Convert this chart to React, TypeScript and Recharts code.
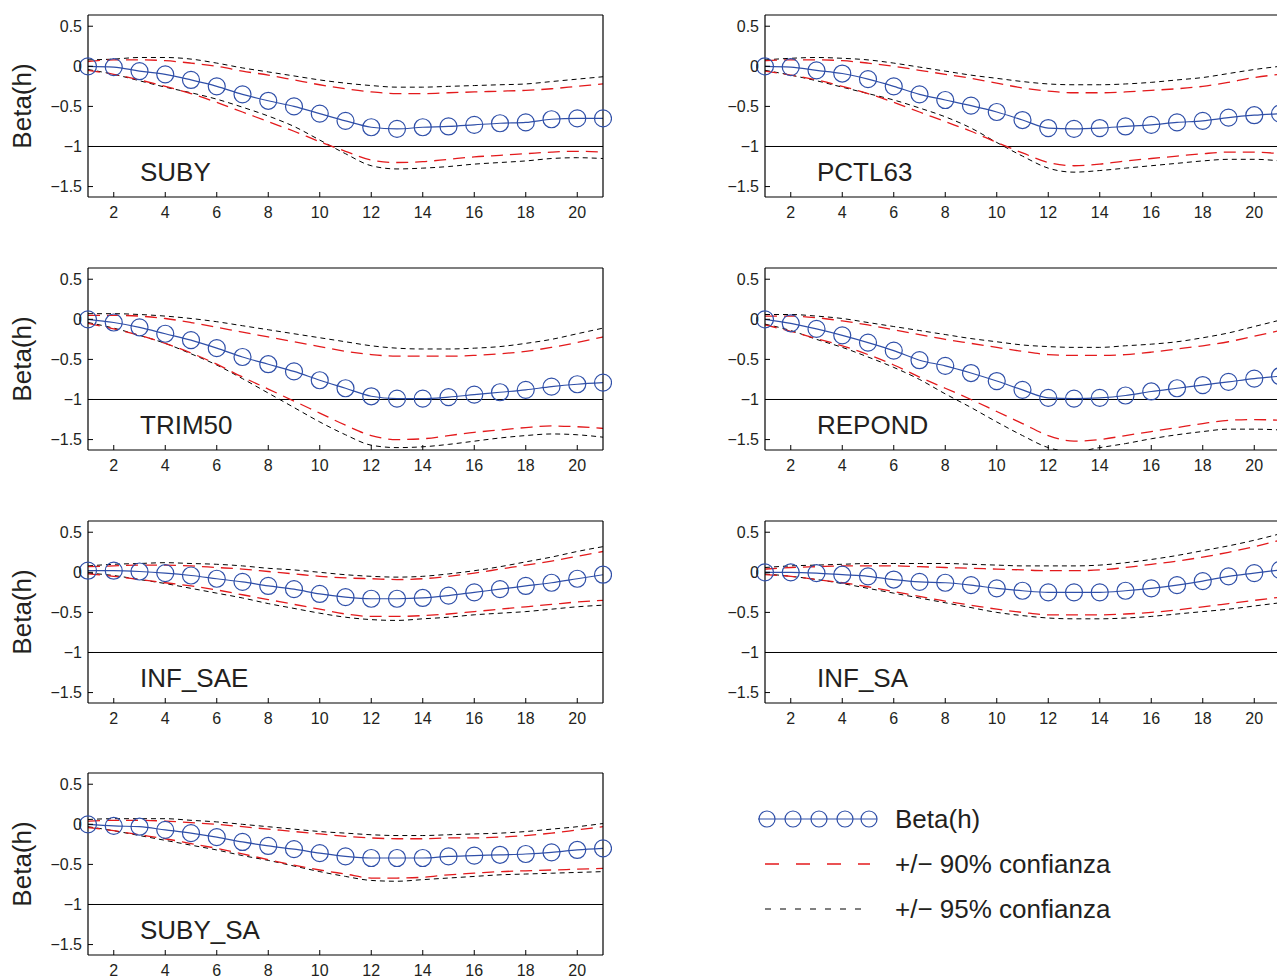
import { LineChart, Line, XAxis, YAxis, ReferenceLine } from "recharts";

const HORIZONS = [1, 2, 3, 4, 5, 6, 7, 8, 9, 10, 11, 12, 13, 14, 15, 16, 17, 18, 19, 20, 21];
const X_TICKS = [2, 4, 6, 8, 10, 12, 14, 16, 18, 20];
const Y_TICKS = [-1.5, -1, -0.5, 0, 0.5];

const SUBY_BETA = [0, -0.01, -0.06, -0.1, -0.17, -0.25, -0.35, -0.43, -0.5, -0.59, -0.68, -0.76, -0.78, -0.76, -0.75, -0.73, -0.71, -0.7, -0.66, -0.65, -0.65];
const SUBY_U90 = [0.06, 0.08, 0.08, 0.07, 0.04, 0.0, -0.06, -0.11, -0.17, -0.23, -0.28, -0.32, -0.34, -0.34, -0.33, -0.32, -0.31, -0.3, -0.28, -0.25, -0.22];
const SUBY_L90 = [-0.05, -0.1, -0.17, -0.25, -0.34, -0.45, -0.57, -0.69, -0.81, -0.94, -1.06, -1.17, -1.2, -1.19, -1.16, -1.13, -1.11, -1.09, -1.07, -1.06, -1.07];
const SUBY_U95 = [0.08, 0.09, 0.11, 0.11, 0.09, 0.04, -0.02, -0.07, -0.12, -0.17, -0.21, -0.24, -0.26, -0.26, -0.25, -0.24, -0.23, -0.22, -0.19, -0.16, -0.13];
const SUBY_L95 = [-0.04, -0.1, -0.18, -0.26, -0.33, -0.41, -0.51, -0.62, -0.75, -0.92, -1.09, -1.24, -1.28, -1.27, -1.25, -1.22, -1.2, -1.18, -1.15, -1.14, -1.15];

const PCTL63_BETA = [0, -0.01, -0.05, -0.09, -0.16, -0.25, -0.35, -0.42, -0.49, -0.57, -0.67, -0.77, -0.78, -0.77, -0.75, -0.73, -0.7, -0.68, -0.64, -0.61, -0.59];
const PCTL63_U90 = [0.07, 0.08, 0.08, 0.07, 0.04, 0.0, -0.05, -0.1, -0.15, -0.21, -0.27, -0.31, -0.33, -0.33, -0.32, -0.3, -0.28, -0.25, -0.2, -0.14, -0.1];
const PCTL63_L90 = [-0.06, -0.11, -0.17, -0.25, -0.34, -0.45, -0.57, -0.69, -0.81, -0.95, -1.08, -1.2, -1.24, -1.22, -1.18, -1.15, -1.12, -1.09, -1.07, -1.07, -1.09];
const PCTL63_U95 = [0.08, 0.1, 0.11, 0.1, 0.08, 0.04, -0.01, -0.06, -0.11, -0.15, -0.19, -0.22, -0.23, -0.23, -0.22, -0.2, -0.17, -0.14, -0.09, -0.04, 0.0];
const PCTL63_L95 = [-0.05, -0.11, -0.18, -0.26, -0.34, -0.42, -0.52, -0.63, -0.77, -0.95, -1.12, -1.27, -1.32, -1.3, -1.27, -1.24, -1.21, -1.18, -1.16, -1.16, -1.18];

const TRIM50_BETA = [0, -0.04, -0.1, -0.18, -0.26, -0.36, -0.47, -0.56, -0.65, -0.76, -0.86, -0.96, -0.99, -0.99, -0.97, -0.94, -0.91, -0.88, -0.84, -0.81, -0.79];
const TRIM50_U90 = [0.05, 0.05, 0.04, 0.01, -0.04, -0.1, -0.16, -0.22, -0.28, -0.34, -0.4, -0.44, -0.46, -0.46, -0.46, -0.45, -0.43, -0.4, -0.35, -0.29, -0.22];
const TRIM50_L90 = [-0.05, -0.12, -0.2, -0.3, -0.42, -0.56, -0.72, -0.87, -1.02, -1.17, -1.32, -1.45, -1.5, -1.49, -1.45, -1.41, -1.38, -1.35, -1.33, -1.34, -1.36];
const TRIM50_U95 = [0.07, 0.07, 0.06, 0.04, 0.01, -0.03, -0.08, -0.13, -0.18, -0.23, -0.28, -0.33, -0.36, -0.37, -0.37, -0.36, -0.34, -0.3, -0.25, -0.18, -0.11];
const TRIM50_L95 = [-0.04, -0.11, -0.2, -0.3, -0.43, -0.57, -0.74, -0.92, -1.1, -1.28, -1.44, -1.57, -1.6, -1.59, -1.56, -1.52, -1.48, -1.45, -1.43, -1.44, -1.47];

const REPOND_BETA = [0, -0.05, -0.12, -0.2, -0.29, -0.39, -0.51, -0.58, -0.67, -0.77, -0.88, -0.98, -0.99, -0.98, -0.95, -0.9, -0.86, -0.82, -0.78, -0.74, -0.71];
const REPOND_U90 = [0.04, 0.04, 0.02, -0.02, -0.07, -0.13, -0.19, -0.25, -0.3, -0.35, -0.4, -0.44, -0.45, -0.45, -0.44, -0.41, -0.37, -0.33, -0.28, -0.21, -0.14];
const REPOND_L90 = [-0.07, -0.15, -0.24, -0.33, -0.44, -0.57, -0.72, -0.86, -1.0, -1.15, -1.3, -1.45, -1.52, -1.5, -1.45, -1.4, -1.35, -1.3, -1.26, -1.25, -1.26];
const REPOND_U95 = [0.06, 0.06, 0.04, 0.01, -0.04, -0.09, -0.14, -0.19, -0.24, -0.28, -0.32, -0.34, -0.35, -0.35, -0.33, -0.31, -0.28, -0.23, -0.17, -0.09, -0.01];
const REPOND_L95 = [-0.06, -0.14, -0.25, -0.35, -0.47, -0.6, -0.75, -0.93, -1.1, -1.28, -1.45, -1.6, -1.65, -1.6, -1.55, -1.49, -1.44, -1.4, -1.37, -1.37, -1.38];

const INFSAE_BETA = [0.02, 0.02, 0.01, -0.01, -0.04, -0.08, -0.12, -0.17, -0.21, -0.27, -0.31, -0.33, -0.33, -0.32, -0.29, -0.25, -0.21, -0.17, -0.13, -0.08, -0.03];
const INFSAE_U90 = [0.07, 0.08, 0.09, 0.09, 0.08, 0.06, 0.04, 0.01, -0.02, -0.05, -0.07, -0.08, -0.09, -0.08, -0.05, -0.01, 0.04, 0.09, 0.14, 0.2, 0.26];
const INFSAE_L90 = [-0.02, -0.05, -0.09, -0.13, -0.17, -0.22, -0.28, -0.34, -0.4, -0.46, -0.52, -0.55, -0.55, -0.54, -0.52, -0.49, -0.46, -0.43, -0.4, -0.37, -0.35];
const INFSAE_U95 = [0.08, 0.1, 0.11, 0.12, 0.11, 0.1, 0.08, 0.05, 0.03, 0.0, -0.03, -0.05, -0.06, -0.05, -0.02, 0.02, 0.07, 0.13, 0.19, 0.26, 0.32];
const INFSAE_L95 = [-0.01, -0.04, -0.09, -0.14, -0.2, -0.26, -0.32, -0.39, -0.45, -0.51, -0.56, -0.59, -0.6, -0.58, -0.56, -0.53, -0.51, -0.49, -0.46, -0.43, -0.41];

const INFSA_BETA = [0, 0, -0.01, -0.03, -0.05, -0.09, -0.12, -0.13, -0.16, -0.2, -0.23, -0.25, -0.25, -0.25, -0.23, -0.2, -0.16, -0.11, -0.05, -0.01, 0.03];
const INFSA_U90 = [0.04, 0.06, 0.07, 0.08, 0.08, 0.08, 0.07, 0.06, 0.05, 0.04, 0.03, 0.02, 0.02, 0.03, 0.06, 0.1, 0.14, 0.19, 0.25, 0.32, 0.4];
const INFSA_L90 = [-0.03, -0.05, -0.09, -0.13, -0.18, -0.24, -0.3, -0.36, -0.41, -0.46, -0.5, -0.53, -0.53, -0.53, -0.52, -0.5, -0.47, -0.43, -0.39, -0.35, -0.31];
const INFSA_U95 = [0.06, 0.08, 0.09, 0.1, 0.11, 0.11, 0.11, 0.11, 0.1, 0.09, 0.08, 0.08, 0.08, 0.09, 0.12, 0.16, 0.21, 0.27, 0.33, 0.4, 0.48];
const INFSA_L95 = [-0.02, -0.05, -0.09, -0.14, -0.2, -0.26, -0.32, -0.38, -0.44, -0.5, -0.54, -0.57, -0.58, -0.58, -0.57, -0.55, -0.52, -0.49, -0.46, -0.42, -0.38];

const SUBYSA_BETA = [0, -0.02, -0.03, -0.07, -0.11, -0.16, -0.22, -0.27, -0.31, -0.36, -0.4, -0.42, -0.42, -0.42, -0.4, -0.39, -0.38, -0.37, -0.35, -0.32, -0.3];
const SUBYSA_U90 = [0.04, 0.05, 0.05, 0.04, 0.02, 0.0, -0.03, -0.06, -0.09, -0.12, -0.15, -0.17, -0.18, -0.18, -0.17, -0.17, -0.16, -0.14, -0.11, -0.07, -0.03];
const SUBYSA_L90 = [-0.04, -0.08, -0.13, -0.18, -0.24, -0.3, -0.37, -0.44, -0.51, -0.57, -0.62, -0.67, -0.67, -0.66, -0.63, -0.61, -0.59, -0.58, -0.57, -0.56, -0.55];
const SUBYSA_U95 = [0.06, 0.07, 0.07, 0.07, 0.05, 0.03, 0.0, -0.03, -0.06, -0.09, -0.11, -0.13, -0.14, -0.14, -0.13, -0.12, -0.11, -0.09, -0.06, -0.03, 0.01];
const SUBYSA_L95 = [-0.03, -0.08, -0.14, -0.2, -0.26, -0.32, -0.39, -0.45, -0.52, -0.59, -0.65, -0.7, -0.71, -0.69, -0.67, -0.65, -0.63, -0.62, -0.61, -0.6, -0.59];

const BLUE = "#2f4fa8";
const RED = "#e31a1c";
const FONT = "'Liberation Sans', Arial, Helvetica, sans-serif";
const TEXT = "#231f20";

// plot box geometry (page pixels)
const COL_X = [88, 765];
const ROW_Y = [15, 268, 521, 773];
const PLOT_W = 515;
const PLOT_H = 182;
const CHART_W = 620;
const CHART_H = 230;

function rows(beta: number[], u90: number[], l90: number[], u95: number[], l95: number[]) {
  return HORIZONS.map((h, i) => ({ h, beta: beta[i], u90: u90[i], l90: l90[i], u95: u95[i], l95: l95[i] }));
}

const PANELS = [
  { name: "SUBY", col: 0, row: 0, data: rows(SUBY_BETA, SUBY_U90, SUBY_L90, SUBY_U95, SUBY_L95) },
  { name: "PCTL63", col: 1, row: 0, data: rows(PCTL63_BETA, PCTL63_U90, PCTL63_L90, PCTL63_U95, PCTL63_L95) },
  { name: "TRIM50", col: 0, row: 1, data: rows(TRIM50_BETA, TRIM50_U90, TRIM50_L90, TRIM50_U95, TRIM50_L95) },
  { name: "REPOND", col: 1, row: 1, data: rows(REPOND_BETA, REPOND_U90, REPOND_L90, REPOND_U95, REPOND_L95) },
  { name: "INF_SAE", col: 0, row: 2, data: rows(INFSAE_BETA, INFSAE_U90, INFSAE_L90, INFSAE_U95, INFSAE_L95) },
  { name: "INF_SA", col: 1, row: 2, data: rows(INFSA_BETA, INFSA_U90, INFSA_L90, INFSA_U95, INFSA_L95) },
  { name: "SUBY_SA", col: 0, row: 3, data: rows(SUBYSA_BETA, SUBYSA_U90, SUBYSA_L90, SUBYSA_U95, SUBYSA_L95) },
];

const fmtY = (v: number) => (v < 0 ? "\u2212" + Math.abs(v) : String(v));
const tickStyle = { fill: TEXT, fontSize: 16, fontFamily: FONT };

function Panel({ data, left, top }: { data: any[]; left: number; top: number }) {
  const yAxisW = 40;
  return (
    <div style={{ position: "absolute", left: left - 88, top: top - 15 }}>
      <LineChart
        width={CHART_W}
        height={CHART_H}
        data={data}
        margin={{ top: 10, left: 88 - yAxisW, right: CHART_W - 88 - PLOT_W - 10, bottom: CHART_H - 15 - PLOT_H - 30 }}
      >
        <XAxis
          xAxisId="b"
          dataKey="h"
          type="number"
          domain={[1, 21]}
          ticks={X_TICKS}
          allowDataOverflow
          height={30}
          tickSize={-5}
          tickMargin={15}
          fontSize={16}
          tick={tickStyle}
          axisLine={{ stroke: "#000", strokeWidth: 1.2 }}
          tickLine={{ stroke: "#000" }}
        />
        <XAxis
          xAxisId="t"
          orientation="top"
          dataKey="h"
          type="number"
          domain={[1, 21]}
          ticks={X_TICKS}
          allowDataOverflow
          height={5}
          tickSize={-5}
          tick={false}
          axisLine={{ stroke: "#000", strokeWidth: 1.2 }}
          tickLine={{ stroke: "#000" }}
        />
        <YAxis
          yAxisId="l"
          type="number"
          domain={[-1.63, 0.64]}
          ticks={Y_TICKS}
          allowDataOverflow
          width={yAxisW}
          tickSize={-5}
          tickMargin={11}
          fontSize={16}
          tickFormatter={fmtY}
          tick={tickStyle}
          axisLine={{ stroke: "#000", strokeWidth: 1.2 }}
          tickLine={{ stroke: "#000" }}
        />
        <YAxis
          yAxisId="r"
          orientation="right"
          type="number"
          domain={[-1.63, 0.64]}
          ticks={Y_TICKS}
          allowDataOverflow
          width={10}
          tickSize={-5}
          tick={false}
          axisLine={{ stroke: "#000", strokeWidth: 1.2 }}
          tickLine={{ stroke: "#000" }}
        />
        <ReferenceLine xAxisId="b" yAxisId="l" y={-1} stroke="#000" strokeWidth={1} />
        <Line xAxisId="b" yAxisId="l" dataKey="u95" type="monotone" stroke="#000" strokeWidth={1} strokeDasharray="5 4" dot={false} isAnimationActive={false} />
        <Line xAxisId="b" yAxisId="l" dataKey="l95" type="monotone" stroke="#000" strokeWidth={1} strokeDasharray="5 4" dot={false} isAnimationActive={false} />
        <Line xAxisId="b" yAxisId="l" dataKey="u90" type="monotone" stroke={RED} strokeWidth={1.3} strokeDasharray="12 7" dot={false} isAnimationActive={false} />
        <Line xAxisId="b" yAxisId="l" dataKey="l90" type="monotone" stroke={RED} strokeWidth={1.3} strokeDasharray="12 7" dot={false} isAnimationActive={false} />
        <Line
          xAxisId="b"
          yAxisId="l"
          dataKey="beta"
          type="monotone"
          stroke={BLUE}
          strokeWidth={1.2}
          dot={{ r: 8.5, stroke: BLUE, strokeWidth: 1.2, fill: "none", clipDot: false }}
          isAnimationActive={false}
        />
      </LineChart>
    </div>
  );
}

export default function App() {
  return (
    <div style={{ position: "fixed", left: 0, top: 0, width: 1277, height: 976, overflow: "hidden", background: "#fff" }}>
      {PANELS.map((p) => (
        <Panel key={p.name} data={p.data} left={COL_X[p.col]} top={ROW_Y[p.row]} />
      ))}
      <svg width={1277} height={976} style={{ position: "absolute", left: 0, top: 0, pointerEvents: "none" }}>
        {PANELS.map((p) => (
          <text key={p.name} x={COL_X[p.col] + 52} y={ROW_Y[p.row] + 166} fontSize={26} fontFamily={FONT} fill={TEXT}>
            {p.name}
          </text>
        ))}
        {ROW_Y.map((y) => (
          <text
            key={y}
            x={0}
            y={0}
            transform={`translate(31, ${y + PLOT_H / 2}) rotate(-90)`}
            textAnchor="middle"
            fontSize={26}
            fontFamily={FONT}
            fill={TEXT}
          >
            Beta(h)
          </text>
        ))}
        <g>
          <line x1={758} x2={877} y1={819} y2={819} stroke={BLUE} strokeWidth={1.2} />
          {[767, 793, 819, 845, 869].map((cx) => (
            <circle key={cx} cx={cx} cy={819} r={8} fill="none" stroke={BLUE} strokeWidth={1.2} />
          ))}
          <text x={895} y={828} fontSize={26} fontFamily={FONT} fill={TEXT}>Beta(h)</text>
          <line x1={765} x2={870} y1={864} y2={864} stroke={RED} strokeWidth={1.3} strokeDasharray="14 17" />
          <text x={895} y={873} fontSize={26} fontFamily={FONT} fill={TEXT}>+/− 90% confianza</text>
          <line x1={765} x2={870} y1={909} y2={909} stroke="#000" strokeWidth={1} strokeDasharray="6 9" />
          <text x={895} y={918} fontSize={26} fontFamily={FONT} fill={TEXT}>+/− 95% confianza</text>
        </g>
      </svg>
    </div>
  );
}
